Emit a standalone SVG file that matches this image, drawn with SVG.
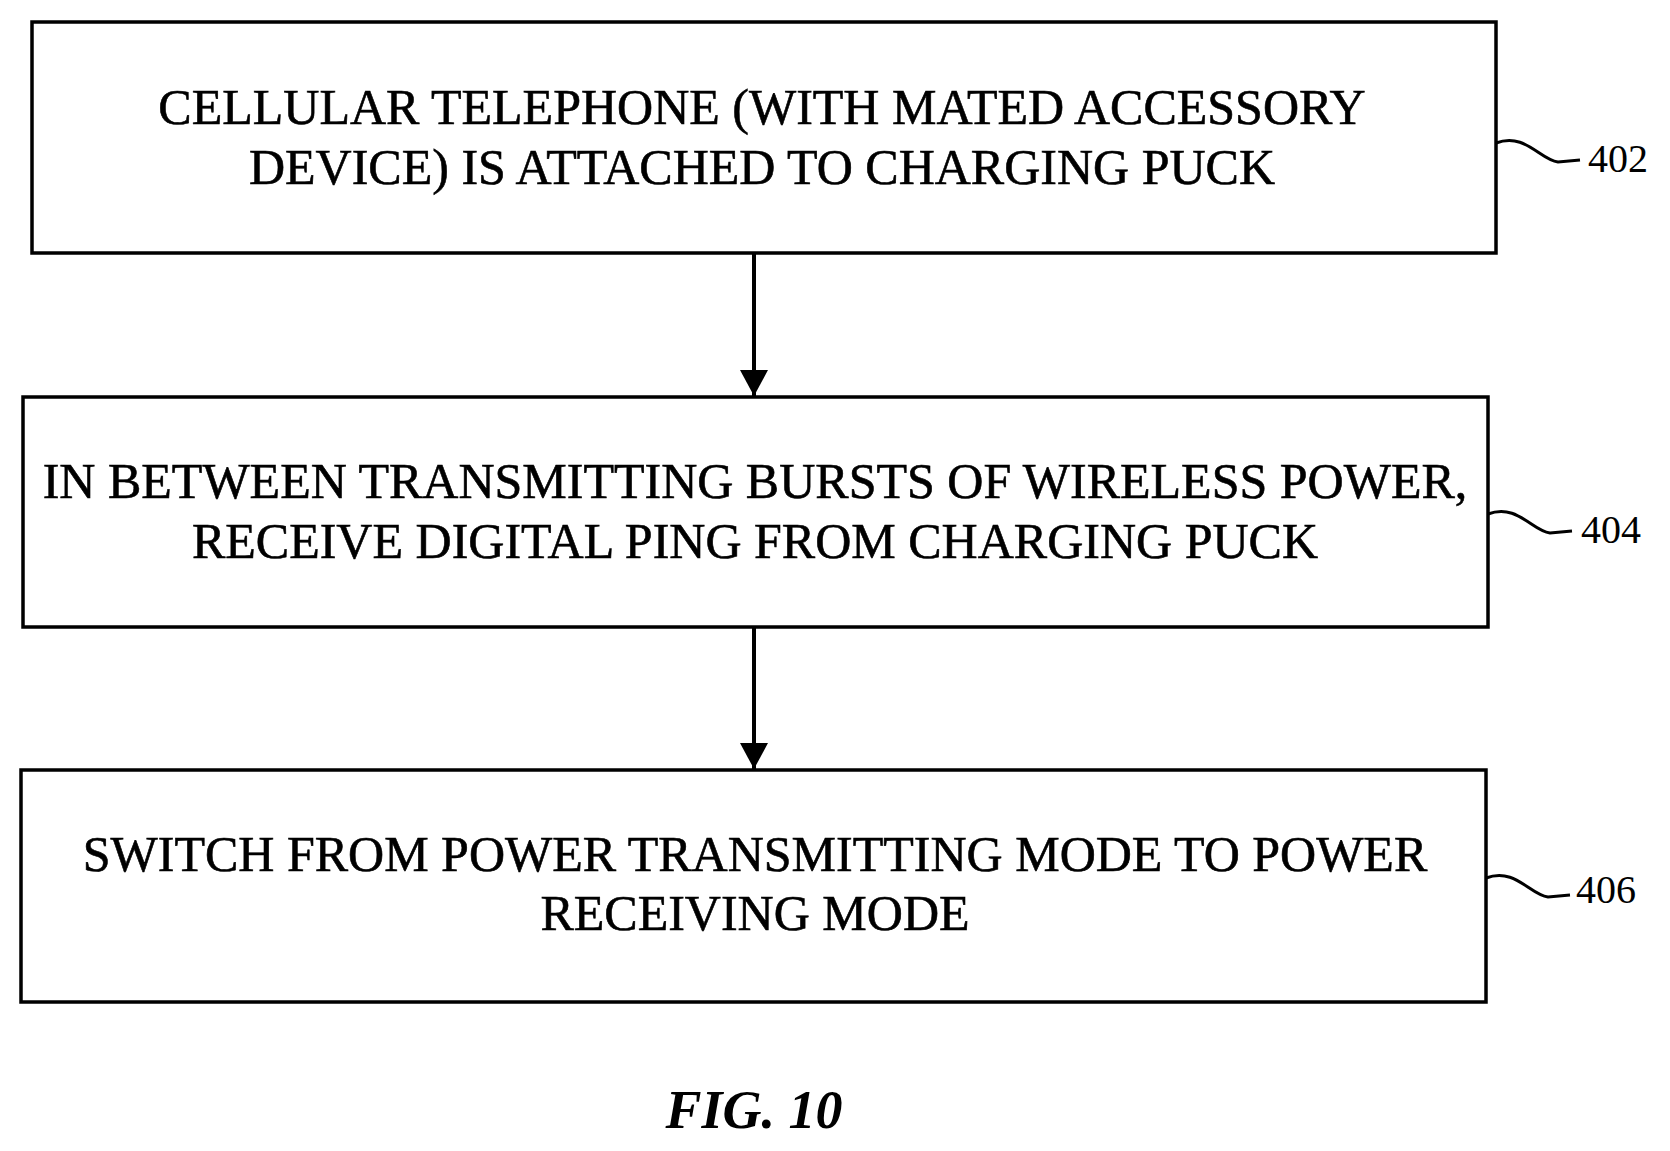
<svg xmlns="http://www.w3.org/2000/svg" width="1670" height="1151" viewBox="0 0 1670 1151">
<style>
.b{fill:#fff;stroke:#000;stroke-width:3.5}
.t{font-family:"Liberation Serif",serif;font-size:50px;text-anchor:middle;fill:#000;stroke:#000;stroke-width:0.6}
.r{font-family:"Liberation Serif",serif;font-size:40px;fill:#000}
.c{fill:none;stroke:#000;stroke-width:3}
</style>
<defs><marker id="a" markerWidth="26" markerHeight="28" refX="26" refY="14" orient="auto" markerUnits="userSpaceOnUse" viewBox="0 0 26 28"><path d="M0,0 L26,14 L0,28 z"/></marker></defs>
<rect width="1670" height="1151" fill="#fff"/>
<g id="n402"><rect class="b" x="32" y="22" width="1464" height="231"/>
<text class="t" x="762" y="124">CELLULAR TELEPHONE (WITH MATED ACCESSORY</text>
<text class="t" x="762" y="184">DEVICE) IS ATTACHED TO CHARGING PUCK</text>
<path class="c" d="M1496,143 C1525,132 1540,160 1558,162 L1580,160"/><text class="r" x="1588" y="172">402</text></g>
<g id="n404"><rect class="b" x="23" y="397" width="1465" height="230"/>
<text class="t" x="755" y="498">IN BETWEEN TRANSMITTING BURSTS OF WIRELESS POWER,</text>
<text class="t" x="755" y="558">RECEIVE DIGITAL PING FROM CHARGING PUCK</text>
<path class="c" d="M1488,514 C1517,503 1532,531 1550,533 L1572,531"/><text class="r" x="1581" y="543">404</text></g>
<g id="n406"><rect class="b" x="21" y="770" width="1465" height="232"/>
<text class="t" x="755" y="871">SWITCH FROM POWER TRANSMITTING MODE TO POWER</text>
<text class="t" x="755" y="930">RECEIVING MODE</text>
<path class="c" d="M1486,878 C1515,867 1530,895 1548,897 L1570,895"/><text class="r" x="1576" y="903">406</text></g>
<g id="connectors">
<line x1="754" y1="253" x2="754" y2="396" stroke="#000" stroke-width="4" marker-end="url(#a)"/>
<line x1="754" y1="627" x2="754" y2="769" stroke="#000" stroke-width="4" marker-end="url(#a)"/>
</g>
<text x="754" y="1128" style="font-family:'Liberation Serif',serif;font-size:54px;font-weight:bold;font-style:italic;text-anchor:middle">FIG. 10</text>
</svg>
